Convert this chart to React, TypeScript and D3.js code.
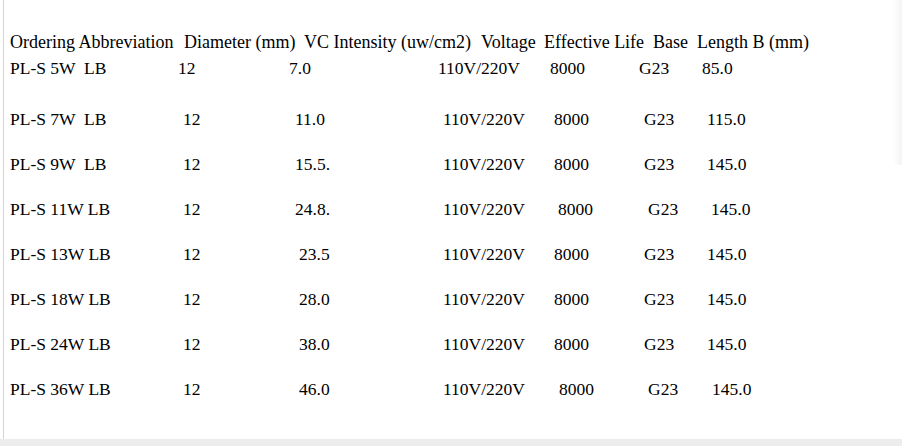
import React from "react";
import * as d3 from "d3";

const headers = ["Ordering Abbreviation", "Diameter (mm)", "VC Intensity (uw/cm2)", "Voltage", "Effective Life", "Base", "Length B (mm)"];
const models = ["PL-S 5W  LB", "PL-S 7W  LB", "PL-S 9W  LB", "PL-S 11W LB", "PL-S 13W LB", "PL-S 18W LB", "PL-S 24W LB", "PL-S 36W LB"];
const diameters = ["12", "12", "12", "12", "12", "12", "12", "12"];
const intensities = ["7.0", "11.0", "15.5.", "24.8.", "23.5", "28.0", "38.0", "46.0"];
const voltages = ["110V/220V", "110V/220V", "110V/220V", "110V/220V", "110V/220V", "110V/220V", "110V/220V", "110V/220V"];
const lives = ["8000", "8000", "8000", "8000", "8000", "8000", "8000", "8000"];
const bases = ["G23", "G23", "G23", "G23", "G23", "G23", "G23", "G23"];
const lengths = ["85.0", "115.0", "145.0", "145.0", "145.0", "145.0", "145.0", "145.0"];

// layout (x positions of each column, per row)
const headerX = [10, 184, 304, 481, 544, 653, 697];
const rowX = [
  [10, 178, 289, 438, 550, 639, 702],
  [10, 183, 295, 443, 554, 644, 707],
  [10, 183, 295, 443, 554, 644, 707],
  [10, 183, 295, 443, 558, 648, 711],
  [10, 183, 299, 443, 554, 644, 707],
  [10, 183, 299, 443, 554, 644, 707],
  [10, 183, 299, 443, 554, 644, 707],
  [10, 183, 299, 443, 559, 648, 712],
];

export default function App() {
  const W = 902, H = 446;
  const yScale = d3.scaleLinear().domain([1, 7]).range([125, 395]);
  const rowY = (i: number) => (i === 0 ? 74 : yScale(i));
  const cols = [models, diameters, intensities, voltages, lives, bases, lengths];
  const font = "'Liberation Serif', 'Times New Roman', serif";
  return (
    <svg width={W} height={H} style={{ position: "fixed", left: 0, top: 0 }} fontFamily={font}>
      <defs>
        <linearGradient id="rg" x1="0" x2="1" y1="0" y2="0">
          <stop offset="0" stopColor="#ffffff" />
          <stop offset="1" stopColor="#f4f4f4" />
        </linearGradient>
      </defs>
      <rect x={0} y={0} width={W} height={H} fill="#fff" />
      <rect x={893} y={0} width={9} height={165} fill="url(#rg)" />
      <rect x={3} y={0} width={1} height={439} fill="#d4d4d4" />
      <rect x={0} y={439} width={W} height={7} fill="#ededed" />
      {headers.map((h, j) => (
        <text key={"h" + j} x={headerX[j]} y={48} fill="#000" fontSize={18}>{h}</text>
      ))}
      {models.map((_, i) =>
        cols.map((col, j) => (
          <text key={i + "-" + j} x={rowX[i][j]} y={rowY(i)} fill="#000" fontSize={17.5} style={{ whiteSpace: "pre" }}>
            {col[i]}
          </text>
        ))
      )}
    </svg>
  );
}
